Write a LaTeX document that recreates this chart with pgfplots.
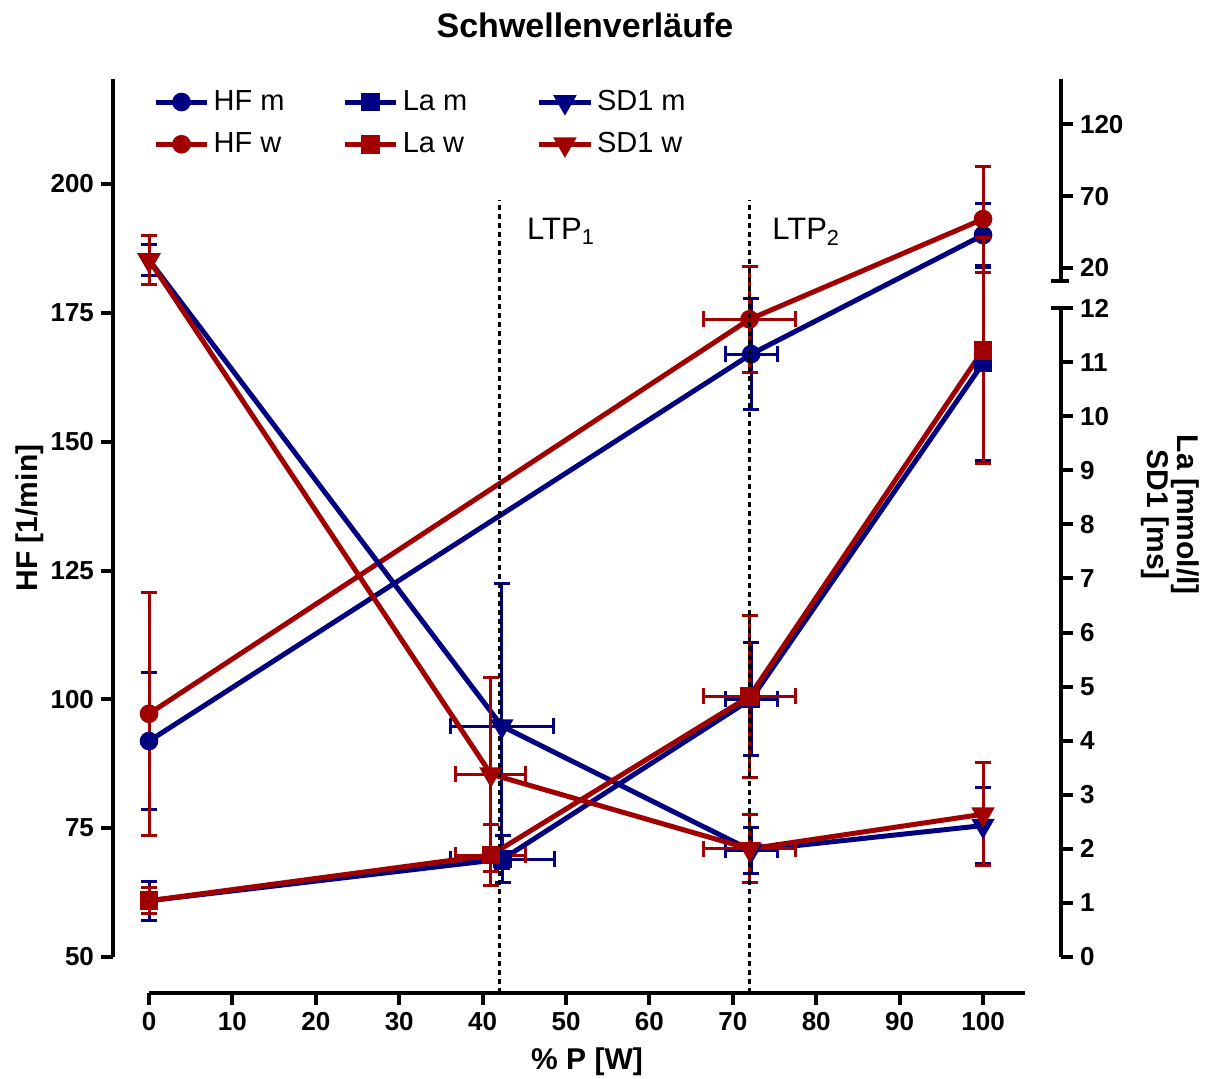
\documentclass[border=0pt]{standalone}
\usepackage{fontspec}
\setmainfont{Liberation Sans}
\usepackage{pgfplots}
\pgfplotsset{compat=1.18}
\definecolor{mblue}{RGB}{0,0,128}
\definecolor{wred}{RGB}{160,0,0}

% Right axis is a broken scale: 0..12 (La / SD1 lower part) and 20,70,120 (upper part).
% Right-axis series are given in display units of that broken axis.

\begin{document}
\begin{tikzpicture}
\useasboundingbox (-56.5pt,-43pt) rectangle (548pt,496.5pt);
\pgfplotsset{
 common/.style={
  width=474pt, height=457pt, scale only axis,
  at={(0pt,0pt)}, anchor=south west,
  xmin=-4.317, xmax=109.35,
  clip=false,
  tick align=outside, major tick length=6pt,
  tick style={line width=2pt, black},
  tick label style={font=\bfseries\fontsize{13}{15}\selectfont},
  /pgf/number format/assume math mode=true,
  axis line style={draw=none},
  error bars/error bar style={line width=1.5pt, solid},
  error bars/error mark options={rotate=90, line width=1.5pt, mark size=4pt, solid},
 },
 hfm/.style={mblue, line width=2.5pt, mark=*, mark size=3.4pt, mark options={solid}},
 hfw/.style={wred, line width=2.5pt, mark=*, mark size=3.4pt, mark options={solid}},
 lam/.style={mblue, line width=2.5pt, mark=square*, mark size=3.4pt, mark options={solid}},
 law/.style={wred, line width=2.5pt, mark=square*, mark size=3.4pt, mark options={solid}},
 sdm/.style={mblue, line width=2.5pt, mark=triangle*, mark size=4.3pt, mark options={solid, rotate=180}},
 sdw/.style={wred, line width=2.5pt, mark=triangle*, mark size=4.3pt, mark options={solid, rotate=180}},
 xerr/.style={draw=none, mark=none, forget plot, error bars/.cd, x dir=both, x explicit,
   error bar style={draw=#1, line width=1.5pt, solid},
   error mark options={rotate=90, line width=1.5pt, mark size=4pt, solid, draw=#1, fill=#1}},
 yerr/.style={error bars/.cd, y dir=both, y explicit},
}

% ---------------- left axis: HF ----------------
\begin{axis}[common,
  ymin=43.01, ymax=220.39,
  axis x line*=bottom, axis y line*=left,
  xtick={0,10,...,100},
  ytick={50,75,100,125,150,175,200},
]
\addplot[xerr=mblue] table[x=x,y=y,x error=ex] {
x y ex
72.2 167.0 3.1
};
\addplot[hfm, yerr] table[x=x,y=y,y error=ey] {
x y ey
0 91.9 13.3
72.2 167.0 10.7
100 190.1 6.2
};
\addplot[xerr=wred] table[x=x,y=y,x error=ex] {
x y ex
72.0 173.75 5.5
};
\addplot[hfw, yerr] table[x=x,y=y,y error=ey] {
x y ey
0 97.2 23.6
72.0 173.75 10.3
100 193.2 10.3
};
\draw[line width=2pt] (axis cs:-4.317,50) -- (axis cs:-4.317,220.39);
\draw[line width=2pt] (axis cs:0,43.01) -- (axis cs:105,43.01);
\end{axis}

% ---------------- right axis: La / SD1 ----------------
\begin{axis}[common,
  ymin=-0.6657, ymax=16.235,
  axis x line=none, axis y line*=right,
  ytick={0,1,2,3,4,5,6,7,8,9,10,11,12,12.74,14.07,15.40},
  yticklabels={0,1,2,3,4,5,6,7,8,9,10,11,12,20,70,120},
  legend columns=3,
  legend cell align=left,
  legend style={draw=none, fill=none, at={(axis description cs:0,1)}, anchor=north west,
    xshift=17pt, yshift=-1.5pt, font=\fontsize{14.5}{17}\selectfont,
    nodes={inner sep=2pt}, row sep=5.5pt},
  legend image code/.code={\draw[mark repeat=2,mark phase=2] plot coordinates {(0cm,0cm) (0.45cm,0cm) (0.9cm,0cm)};},
]
\addlegendimage{hfm}
\addlegendentry{\makebox[62.5pt][l]{HF m}}
% La m
\addplot[xerr=mblue] table[x=x,y=y,x error=ex] {
x y ex
42.4 1.81 6.2
72.2 4.77 3.1
};
\addplot[lam, yerr] table[x=x,y=y,y error=ey] {
x y ey
0 1.04 0.36
42.4 1.81 0.44
72.2 4.77 1.05
100 10.98 1.8
};
\addlegendentry{\makebox[65pt][l]{La m}}
% SD1 m
\addplot[xerr=mblue] table[x=x,y=y,x error=ex] {
x y ex
42.3 4.27 6.2
72.2 1.97 3.1
};
\addplot[sdm, yerr] table[x=x,y=y,y error=ey] {
x y ey
0 12.89 0.29
42.3 4.27 2.64
72.2 1.97 0.43
100 2.43 0.71
};
\addlegendentry{SD1 m}
\addlegendimage{hfw}
\addlegendentry{\makebox[62.5pt][l]{HF w}}
% La w
\addplot[xerr=wred] table[x=x,y=y,x error=ex] {
x y ex
41.0 1.885 4.2
72.0 4.82 5.5
};
\addplot[law, yerr] table[x=x,y=y,y error=ey] {
x y ey
0 1.04 0.24
41.0 1.885 0.56
72.0 4.82 1.5
100 11.22 2.09
};
\addlegendentry{\makebox[65pt][l]{La w}}
% SD1 w
\addplot[xerr=wred] table[x=x,y=y,x error=ex] {
x y ex
41.0 3.38 4.2
72.0 2.0 5.5
};
\addplot[sdw, yerr] table[x=x,y=y,y error=ey] {
x y ey
0 12.89 0.46
41.0 3.38 1.79
72.0 2.0 0.63
100 2.64 0.95
};
\addlegendentry{SD1 w}

% broken right axis line
\draw[line width=2pt] (axis cs:109.35,0) -- (axis cs:109.35,12);
\draw[line width=2pt] (axis cs:109.35,12.5) -- (axis cs:109.35,16.235);
\draw[line width=2pt] ([xshift=-5pt]axis cs:109.35,12) -- ([xshift=5pt]axis cs:109.35,12);
\draw[line width=2pt] ([xshift=-5pt]axis cs:109.35,12.5) -- ([xshift=4pt]axis cs:109.35,12.5);

% threshold lines
\draw[line width=1.5pt, dash pattern=on 2.5pt off 2pt] (axis cs:42,-0.6657) -- (axis cs:42,14.0);
\draw[line width=1.5pt, dash pattern=on 2.5pt off 2pt] (axis cs:72,-0.6657) -- (axis cs:72,14.0);
\node[anchor=base west, font=\fontsize{15.5}{18}\selectfont, inner sep=0pt] at (axis cs:45.3,13.26) {LTP\textsubscript{1}};
\node[anchor=base west, font=\fontsize{15.5}{18}\selectfont, inner sep=0pt] at (axis cs:74.7,13.26) {LTP\textsubscript{2}};
\end{axis}

% titles and labels
\node[anchor=base, font=\bfseries\fontsize{17}{20}\selectfont, inner sep=0pt] at (236pt,477.5pt) {Schwellenverläufe};
\node[anchor=base, font=\bfseries\fontsize{15}{18}\selectfont, inner sep=0pt] at (237pt,-38.5pt) {\% P [W]};
\node[anchor=base, rotate=90, font=\bfseries\fontsize{15}{18}\selectfont, inner sep=0pt] at (-37.5pt,237.5pt) {HF [1/min]};
\node[rotate=-90, align=center, font=\bfseries\fontsize{15}{15}\selectfont, inner sep=0pt] at (528.5pt,239pt) {La [mmol/l]\\SD1 [ms]};
\end{tikzpicture}
\end{document}
